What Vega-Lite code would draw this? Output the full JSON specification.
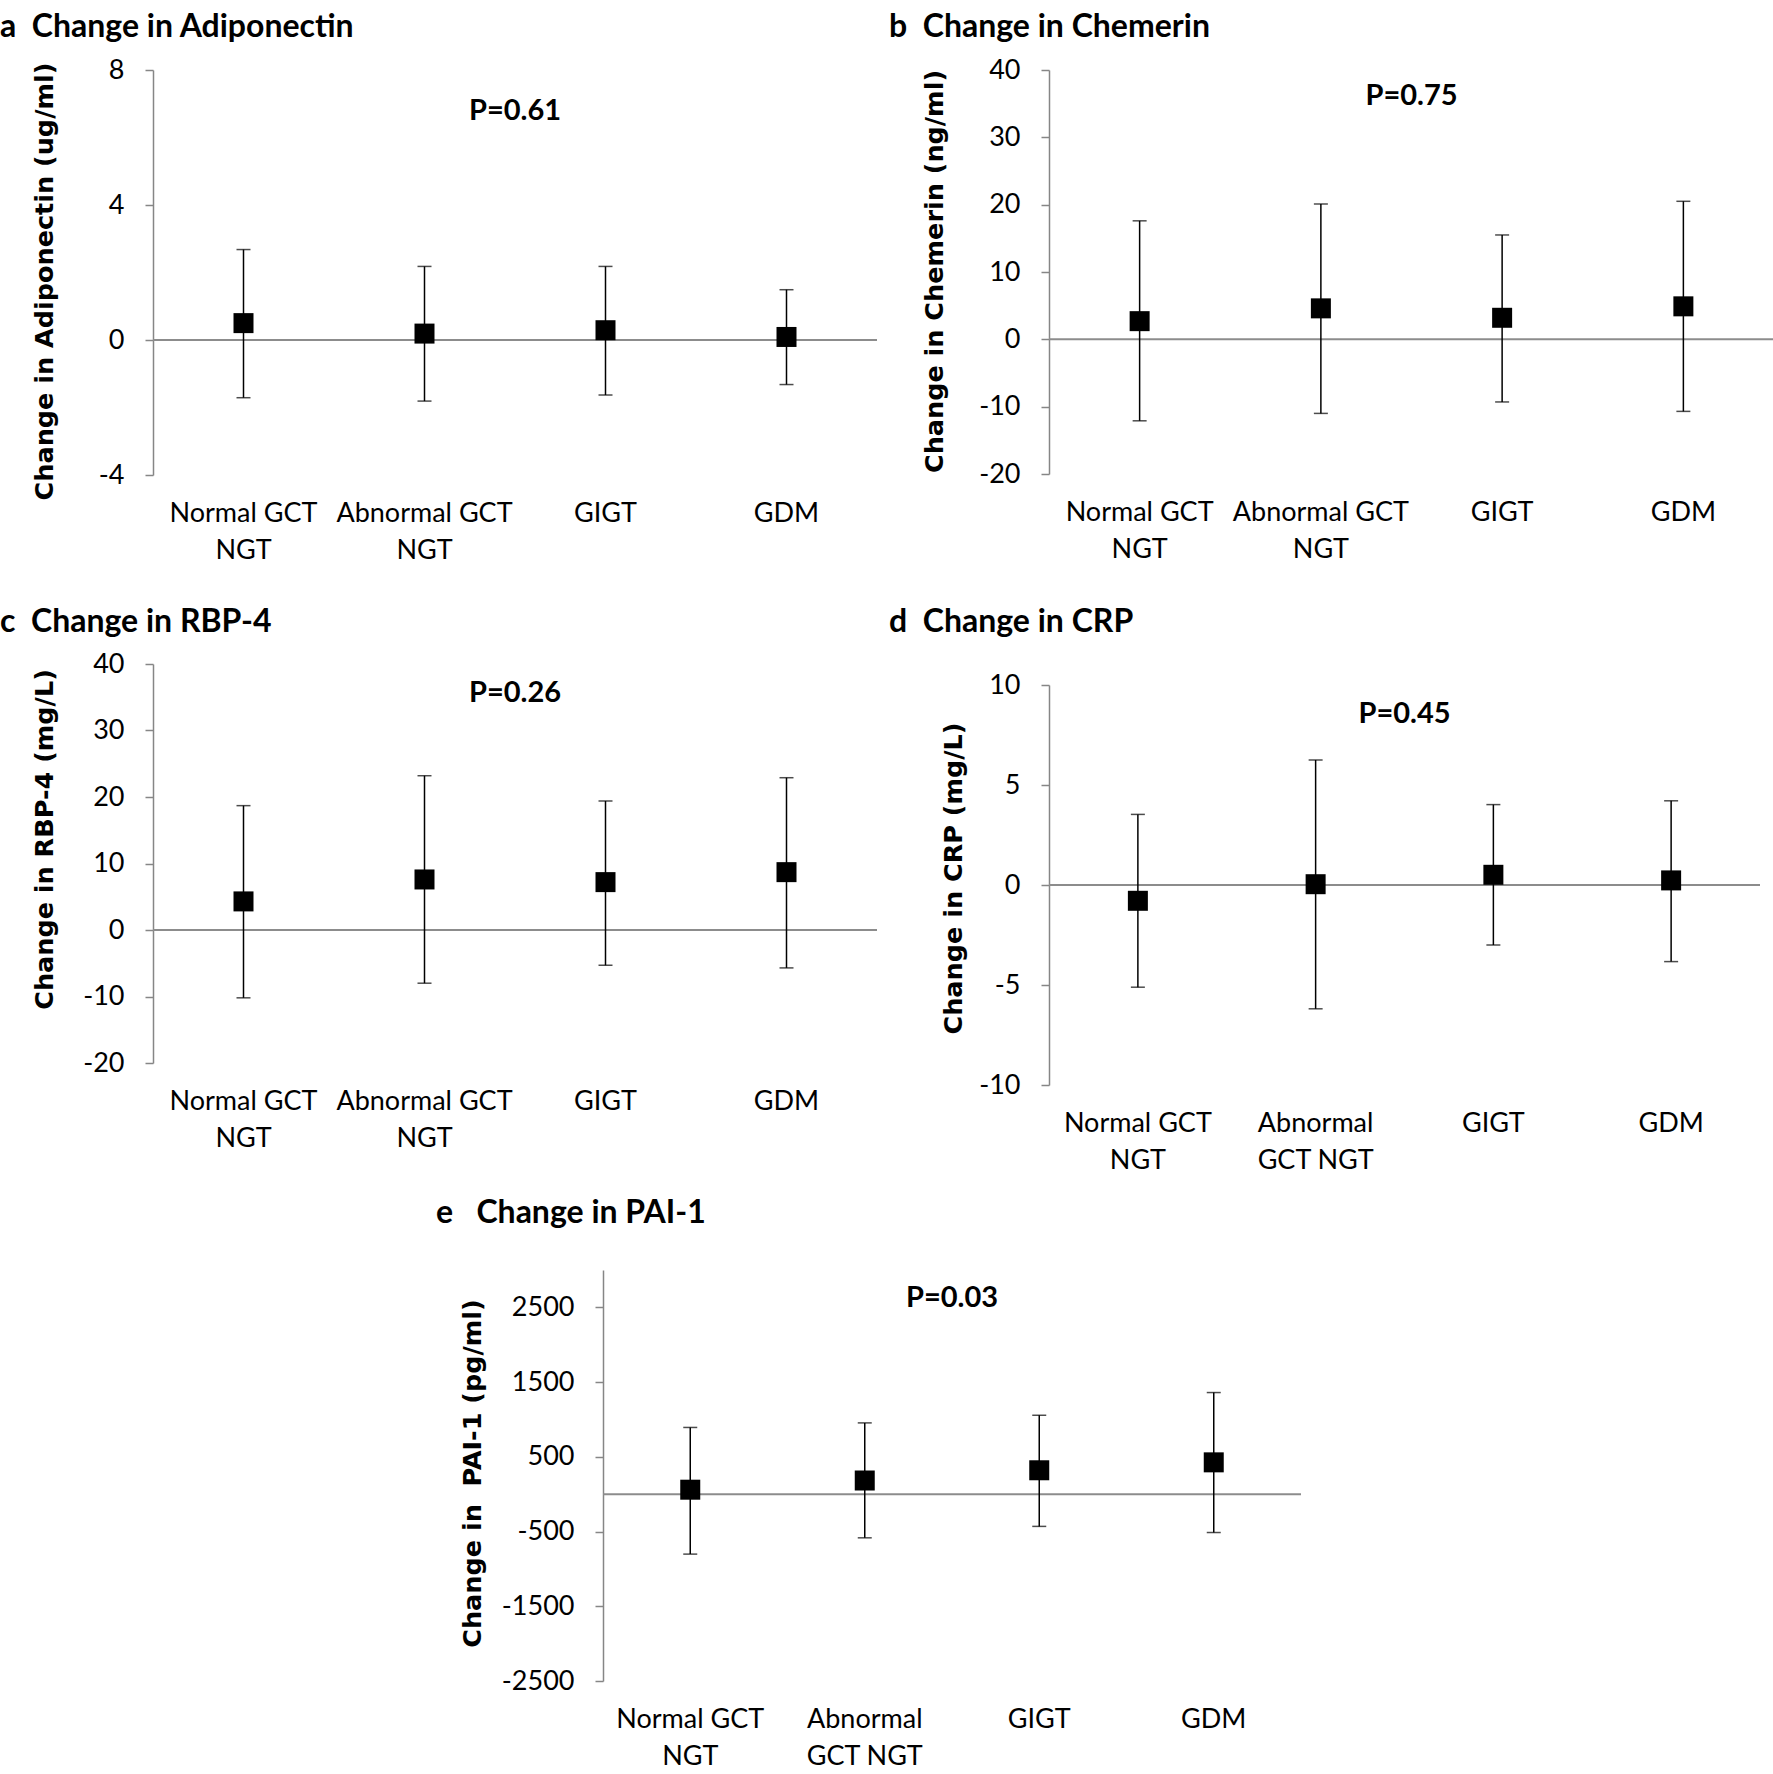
{
  "$schema": "https://vega.github.io/schema/vega-lite/v6.json",
  "padding": {"left": 0, "top": 11, "right": 0, "bottom": 0},
  "background": "white",
  "config": {
    "view": {"stroke": null},
    "font": "Lato",
    "title": {"font": "Lato", "fontWeight": "bold", "fontSize": 32, "color": "black", "anchor": "start", "frame": "group", "baseline": "alphabetic"},
    "axisY": {"domainColor": "#868686", "domainWidth": 1.5, "tickColor": "#868686", "tickWidth": 1.5, "tickSize": 8, "labelPadding": 21, "labelFont": "Lato", "labelFontSize": 27, "labelColor": "black", "grid": false, "titleFont": "DejaVu Sans", "titleFontWeight": "bold", "titleFontSize": 25.5, "titleColor": "black", "titleBaseline": "middle"},
    "axisX": {"domain": false, "ticks": false, "tickSize": 0, "labelPadding": 25, "labelFont": "Lato", "labelFontSize": 27, "labelColor": "black", "labelAngle": 0, "labelLimit": 400, "labelOverlap": false, "labelLineHeight": 37, "labelBaseline": "top", "grid": false}
  },
  "datasets": {
    "adiponectin": [
      {"cat": "Normal GCT|NGT", "mean": 0.5, "lo": -1.71, "hi": 2.68},
      {"cat": "Abnormal GCT|NGT", "mean": 0.19, "lo": -1.81, "hi": 2.18},
      {"cat": "GIGT", "mean": 0.29, "lo": -1.63, "hi": 2.18},
      {"cat": "GDM", "mean": 0.09, "lo": -1.32, "hi": 1.49}
    ],
    "chemerin": [
      {"cat": "Normal GCT|NGT", "mean": 2.7, "lo": -12.1, "hi": 17.6},
      {"cat": "Abnormal GCT|NGT", "mean": 4.6, "lo": -11.0, "hi": 20.1},
      {"cat": "GIGT", "mean": 3.2, "lo": -9.3, "hi": 15.5},
      {"cat": "GDM", "mean": 4.9, "lo": -10.7, "hi": 20.5}
    ],
    "rbp4": [
      {"cat": "Normal GCT|NGT", "mean": 4.3, "lo": -10.2, "hi": 18.7},
      {"cat": "Abnormal GCT|NGT", "mean": 7.6, "lo": -8.0, "hi": 23.2},
      {"cat": "GIGT", "mean": 7.2, "lo": -5.3, "hi": 19.4},
      {"cat": "GDM", "mean": 8.7, "lo": -5.7, "hi": 22.9}
    ],
    "crp": [
      {"cat": "Normal GCT|NGT", "mean": -0.79, "lo": -5.11, "hi": 3.53},
      {"cat": "Abnormal|GCT NGT", "mean": 0.04, "lo": -6.19, "hi": 6.25},
      {"cat": "GIGT", "mean": 0.51, "lo": -3.0, "hi": 4.02},
      {"cat": "GDM", "mean": 0.23, "lo": -3.83, "hi": 4.21}
    ],
    "pai1": [
      {"cat": "Normal GCT|NGT", "mean": 60, "lo": -802, "hi": 893},
      {"cat": "Abnormal|GCT NGT", "mean": 183, "lo": -584, "hi": 954},
      {"cat": "GIGT", "mean": 320, "lo": -431, "hi": 1056},
      {"cat": "GDM", "mean": 426, "lo": -513, "hi": 1360}
    ]
  },
  "vconcat": [
    {
      "hconcat": [
        {
          "vconcat": [
            {
              "width": 724, "height": 405,
              "title": {"text": "a\u00a0 Change in Adiponectin", "dx": -153, "offset": 12},
              "data": {"name": "adiponectin"},
              "layer": [
                {"data": {"values": [{"base": 0}]}, "mark": {"type": "rule", "color": "#8c8c8c", "strokeWidth": 2},
                 "encoding": {"y": {"field": "base", "type": "quantitative", "title": "Change in Adiponectin (ug/ml)", "scale": {"domain": [-4, 8], "nice": false, "zero": false}, "axis": {"values": [-4, 0, 4, 8], "labelExpr": "'' + datum.value", "titleX": -109, "titleY": 211}}}},
                {"mark": {"type": "rule", "color": "black", "strokeWidth": 1.5},
                 "encoding": {"x": {"field": "cat", "type": "nominal", "title": null, "scale": {"type": "band", "domain": ["Normal GCT|NGT", "Abnormal GCT|NGT", "GIGT", "GDM"], "paddingInner": 0, "paddingOuter": 0}, "axis": {"labelExpr": "split(datum.label, '|')"}},
                              "y": {"field": "lo", "type": "quantitative", "title": "Change in Adiponectin (ug/ml)", "scale": {"domain": [-4, 8], "nice": false, "zero": false}, "axis": {"values": [-4, 0, 4, 8], "labelExpr": "'' + datum.value", "titleX": -109, "titleY": 211}}, "y2": {"field": "hi"}}},
                {"mark": {"type": "tick", "orient": "horizontal", "color": "black", "size": 14, "thickness": 1.5},
                 "encoding": {"x": {"field": "cat", "type": "nominal", "title": null, "scale": {"type": "band"}, "axis": {"labelExpr": "split(datum.label, '|')"}},
                              "y": {"field": "lo", "type": "quantitative", "title": "Change in Adiponectin (ug/ml)", "scale": {"domain": [-4, 8], "nice": false, "zero": false}, "axis": {"values": [-4, 0, 4, 8], "labelExpr": "'' + datum.value", "titleX": -109, "titleY": 211}}}},
                {"mark": {"type": "tick", "orient": "horizontal", "color": "black", "size": 14, "thickness": 1.5},
                 "encoding": {"x": {"field": "cat", "type": "nominal", "title": null, "scale": {"type": "band"}, "axis": {"labelExpr": "split(datum.label, '|')"}},
                              "y": {"field": "hi", "type": "quantitative", "title": "Change in Adiponectin (ug/ml)", "scale": {"domain": [-4, 8], "nice": false, "zero": false}, "axis": {"values": [-4, 0, 4, 8], "labelExpr": "'' + datum.value", "titleX": -109, "titleY": 211}}}},
                {"mark": {"type": "square", "color": "black", "size": 400, "opacity": 1},
                 "encoding": {"x": {"field": "cat", "type": "nominal", "title": null, "scale": {"type": "band"}, "axis": {"labelExpr": "split(datum.label, '|')"}},
                              "y": {"field": "mean", "type": "quantitative", "title": "Change in Adiponectin (ug/ml)", "scale": {"domain": [-4, 8], "nice": false, "zero": false}, "axis": {"values": [-4, 0, 4, 8], "labelExpr": "'' + datum.value", "titleX": -109, "titleY": 211}}}},
                {"data": {"values": [{"cat": "Abnormal GCT|NGT", "label": "P=0.61", "py": 6.79}]},
                 "mark": {"type": "text", "font": "Lato", "fontWeight": "bold", "fontSize": 29, "baseline": "middle", "align": "center", "color": "black"},
                 "encoding": {"x": {"field": "cat", "type": "nominal", "title": null, "bandPosition": 1, "scale": {"type": "band"}, "axis": {"labelExpr": "split(datum.label, '|')"}},
                              "y": {"field": "py", "type": "quantitative", "title": "Change in Adiponectin (ug/ml)", "scale": {"domain": [-4, 8], "nice": false, "zero": false}, "axis": {"values": [-4, 0, 4, 8], "labelExpr": "'' + datum.value", "titleX": -109, "titleY": 211}}, "text": {"field": "label"}}}
              ]
            },
            {
              "width": 724, "height": 399,
              "title": {"text": "c\u00a0 Change in RBP-4", "dx": -153, "offset": 11},
              "data": {"name": "rbp4"},
              "layer": [
                {"data": {"values": [{"base": 0}]}, "mark": {"type": "rule", "color": "#8c8c8c", "strokeWidth": 2},
                 "encoding": {"y": {"field": "base", "type": "quantitative", "title": "Change in RBP-4 (mg/L)", "scale": {"domain": [-20, 40], "nice": false, "zero": false}, "axis": {"values": [-20, -10, 0, 10, 20, 30, 40], "labelExpr": "'' + datum.value", "titleX": -109, "titleY": 175}}}},
                {"mark": {"type": "rule", "color": "black", "strokeWidth": 1.5},
                 "encoding": {"x": {"field": "cat", "type": "nominal", "title": null, "scale": {"type": "band", "domain": ["Normal GCT|NGT", "Abnormal GCT|NGT", "GIGT", "GDM"], "paddingInner": 0, "paddingOuter": 0}, "axis": {"labelExpr": "split(datum.label, '|')"}},
                              "y": {"field": "lo", "type": "quantitative", "title": "Change in RBP-4 (mg/L)", "scale": {"domain": [-20, 40], "nice": false, "zero": false}, "axis": {"values": [-20, -10, 0, 10, 20, 30, 40], "labelExpr": "'' + datum.value", "titleX": -109, "titleY": 175}}, "y2": {"field": "hi"}}},
                {"mark": {"type": "tick", "orient": "horizontal", "color": "black", "size": 14, "thickness": 1.5},
                 "encoding": {"x": {"field": "cat", "type": "nominal", "title": null, "scale": {"type": "band"}, "axis": {"labelExpr": "split(datum.label, '|')"}},
                              "y": {"field": "lo", "type": "quantitative", "title": "Change in RBP-4 (mg/L)", "scale": {"domain": [-20, 40], "nice": false, "zero": false}, "axis": {"values": [-20, -10, 0, 10, 20, 30, 40], "labelExpr": "'' + datum.value", "titleX": -109, "titleY": 175}}}},
                {"mark": {"type": "tick", "orient": "horizontal", "color": "black", "size": 14, "thickness": 1.5},
                 "encoding": {"x": {"field": "cat", "type": "nominal", "title": null, "scale": {"type": "band"}, "axis": {"labelExpr": "split(datum.label, '|')"}},
                              "y": {"field": "hi", "type": "quantitative", "title": "Change in RBP-4 (mg/L)", "scale": {"domain": [-20, 40], "nice": false, "zero": false}, "axis": {"values": [-20, -10, 0, 10, 20, 30, 40], "labelExpr": "'' + datum.value", "titleX": -109, "titleY": 175}}}},
                {"mark": {"type": "square", "color": "black", "size": 400, "opacity": 1},
                 "encoding": {"x": {"field": "cat", "type": "nominal", "title": null, "scale": {"type": "band"}, "axis": {"labelExpr": "split(datum.label, '|')"}},
                              "y": {"field": "mean", "type": "quantitative", "title": "Change in RBP-4 (mg/L)", "scale": {"domain": [-20, 40], "nice": false, "zero": false}, "axis": {"values": [-20, -10, 0, 10, 20, 30, 40], "labelExpr": "'' + datum.value", "titleX": -109, "titleY": 175}}}},
                {"data": {"values": [{"cat": "Abnormal GCT|NGT", "label": "P=0.26", "py": 35.6}]},
                 "mark": {"type": "text", "font": "Lato", "fontWeight": "bold", "fontSize": 29, "baseline": "middle", "align": "center", "color": "black"},
                 "encoding": {"x": {"field": "cat", "type": "nominal", "title": null, "bandPosition": 1, "scale": {"type": "band"}, "axis": {"labelExpr": "split(datum.label, '|')"}},
                              "y": {"field": "py", "type": "quantitative", "title": "Change in RBP-4 (mg/L)", "scale": {"domain": [-20, 40], "nice": false, "zero": false}, "axis": {"values": [-20, -10, 0, 10, 20, 30, 40], "labelExpr": "'' + datum.value", "titleX": -109, "titleY": 175}}, "text": {"field": "label"}}}
              ]
            }
          ],
          "spacing": 43
        },
        {
          "vconcat": [
            {
              "width": 725, "height": 404,
              "title": {"text": "b\u00a0 Change in Chemerin", "dx": -160, "offset": 12},
              "data": {"name": "chemerin"},
              "layer": [
                {"data": {"values": [{"base": 0}]}, "mark": {"type": "rule", "color": "#8c8c8c", "strokeWidth": 2},
                 "encoding": {"y": {"field": "base", "type": "quantitative", "title": "Change in Chemerin (ng/ml)", "scale": {"domain": [-20, 40], "nice": false, "zero": false}, "axis": {"values": [-20, -10, 0, 10, 20, 30, 40], "labelExpr": "'' + datum.value", "titleX": -115, "titleY": 201}}}},
                {"mark": {"type": "rule", "color": "black", "strokeWidth": 1.5},
                 "encoding": {"x": {"field": "cat", "type": "nominal", "title": null, "scale": {"type": "band", "domain": ["Normal GCT|NGT", "Abnormal GCT|NGT", "GIGT", "GDM"], "paddingInner": 0, "paddingOuter": 0}, "axis": {"labelExpr": "split(datum.label, '|')"}},
                              "y": {"field": "lo", "type": "quantitative", "title": "Change in Chemerin (ng/ml)", "scale": {"domain": [-20, 40], "nice": false, "zero": false}, "axis": {"values": [-20, -10, 0, 10, 20, 30, 40], "labelExpr": "'' + datum.value", "titleX": -115, "titleY": 201}}, "y2": {"field": "hi"}}},
                {"mark": {"type": "tick", "orient": "horizontal", "color": "black", "size": 14, "thickness": 1.5},
                 "encoding": {"x": {"field": "cat", "type": "nominal", "title": null, "scale": {"type": "band"}, "axis": {"labelExpr": "split(datum.label, '|')"}},
                              "y": {"field": "lo", "type": "quantitative", "title": "Change in Chemerin (ng/ml)", "scale": {"domain": [-20, 40], "nice": false, "zero": false}, "axis": {"values": [-20, -10, 0, 10, 20, 30, 40], "labelExpr": "'' + datum.value", "titleX": -115, "titleY": 201}}}},
                {"mark": {"type": "tick", "orient": "horizontal", "color": "black", "size": 14, "thickness": 1.5},
                 "encoding": {"x": {"field": "cat", "type": "nominal", "title": null, "scale": {"type": "band"}, "axis": {"labelExpr": "split(datum.label, '|')"}},
                              "y": {"field": "hi", "type": "quantitative", "title": "Change in Chemerin (ng/ml)", "scale": {"domain": [-20, 40], "nice": false, "zero": false}, "axis": {"values": [-20, -10, 0, 10, 20, 30, 40], "labelExpr": "'' + datum.value", "titleX": -115, "titleY": 201}}}},
                {"mark": {"type": "square", "color": "black", "size": 400, "opacity": 1},
                 "encoding": {"x": {"field": "cat", "type": "nominal", "title": null, "scale": {"type": "band"}, "axis": {"labelExpr": "split(datum.label, '|')"}},
                              "y": {"field": "mean", "type": "quantitative", "title": "Change in Chemerin (ng/ml)", "scale": {"domain": [-20, 40], "nice": false, "zero": false}, "axis": {"values": [-20, -10, 0, 10, 20, 30, 40], "labelExpr": "'' + datum.value", "titleX": -115, "titleY": 201}}}},
                {"data": {"values": [{"cat": "Abnormal GCT|NGT", "label": "P=0.75", "py": 36.1}]},
                 "mark": {"type": "text", "font": "Lato", "fontWeight": "bold", "fontSize": 29, "baseline": "middle", "align": "center", "color": "black"},
                 "encoding": {"x": {"field": "cat", "type": "nominal", "title": null, "bandPosition": 1, "scale": {"type": "band"}, "axis": {"labelExpr": "split(datum.label, '|')"}},
                              "y": {"field": "py", "type": "quantitative", "title": "Change in Chemerin (ng/ml)", "scale": {"domain": [-20, 40], "nice": false, "zero": false}, "axis": {"values": [-20, -10, 0, 10, 20, 30, 40], "labelExpr": "'' + datum.value", "titleX": -115, "titleY": 201}}, "text": {"field": "label"}}}
              ]
            },
            {
              "width": 711, "height": 400,
              "title": {"text": "d\u00a0 Change in CRP", "dx": -160, "offset": 32},
              "data": {"name": "crp"},
              "layer": [
                {"data": {"values": [{"base": 0}]}, "mark": {"type": "rule", "color": "#8c8c8c", "strokeWidth": 2},
                 "encoding": {"y": {"field": "base", "type": "quantitative", "title": "Change in CRP (mg/L)", "scale": {"domain": [-10, 10], "nice": false, "zero": false}, "axis": {"values": [-10, -5, 0, 5, 10], "labelExpr": "'' + datum.value", "titleX": -96, "titleY": 193}}}},
                {"mark": {"type": "rule", "color": "black", "strokeWidth": 1.5},
                 "encoding": {"x": {"field": "cat", "type": "nominal", "title": null, "scale": {"type": "band", "domain": ["Normal GCT|NGT", "Abnormal|GCT NGT", "GIGT", "GDM"], "paddingInner": 0, "paddingOuter": 0}, "axis": {"labelExpr": "split(datum.label, '|')"}},
                              "y": {"field": "lo", "type": "quantitative", "title": "Change in CRP (mg/L)", "scale": {"domain": [-10, 10], "nice": false, "zero": false}, "axis": {"values": [-10, -5, 0, 5, 10], "labelExpr": "'' + datum.value", "titleX": -96, "titleY": 193}}, "y2": {"field": "hi"}}},
                {"mark": {"type": "tick", "orient": "horizontal", "color": "black", "size": 14, "thickness": 1.5},
                 "encoding": {"x": {"field": "cat", "type": "nominal", "title": null, "scale": {"type": "band"}, "axis": {"labelExpr": "split(datum.label, '|')"}},
                              "y": {"field": "lo", "type": "quantitative", "title": "Change in CRP (mg/L)", "scale": {"domain": [-10, 10], "nice": false, "zero": false}, "axis": {"values": [-10, -5, 0, 5, 10], "labelExpr": "'' + datum.value", "titleX": -96, "titleY": 193}}}},
                {"mark": {"type": "tick", "orient": "horizontal", "color": "black", "size": 14, "thickness": 1.5},
                 "encoding": {"x": {"field": "cat", "type": "nominal", "title": null, "scale": {"type": "band"}, "axis": {"labelExpr": "split(datum.label, '|')"}},
                              "y": {"field": "hi", "type": "quantitative", "title": "Change in CRP (mg/L)", "scale": {"domain": [-10, 10], "nice": false, "zero": false}, "axis": {"values": [-10, -5, 0, 5, 10], "labelExpr": "'' + datum.value", "titleX": -96, "titleY": 193}}}},
                {"mark": {"type": "square", "color": "black", "size": 400, "opacity": 1},
                 "encoding": {"x": {"field": "cat", "type": "nominal", "title": null, "scale": {"type": "band"}, "axis": {"labelExpr": "split(datum.label, '|')"}},
                              "y": {"field": "mean", "type": "quantitative", "title": "Change in CRP (mg/L)", "scale": {"domain": [-10, 10], "nice": false, "zero": false}, "axis": {"values": [-10, -5, 0, 5, 10], "labelExpr": "'' + datum.value", "titleX": -96, "titleY": 193}}}},
                {"data": {"values": [{"cat": "Abnormal|GCT NGT", "label": "P=0.45", "py": 8.55}]},
                 "mark": {"type": "text", "font": "Lato", "fontWeight": "bold", "fontSize": 29, "baseline": "middle", "align": "center", "color": "black"},
                 "encoding": {"x": {"field": "cat", "type": "nominal", "title": null, "bandPosition": 1, "scale": {"type": "band"}, "axis": {"labelExpr": "split(datum.label, '|')"}},
                              "y": {"field": "py", "type": "quantitative", "title": "Change in CRP (mg/L)", "scale": {"domain": [-10, 10], "nice": false, "zero": false}, "axis": {"values": [-10, -5, 0, 5, 10], "labelExpr": "'' + datum.value", "titleX": -96, "titleY": 193}}, "text": {"field": "label"}}}
              ]
            }
          ],
          "spacing": 44
        }
      ],
      "spacing": 11
    },
    {
      "hconcat": [
        {"width": 250, "height": 10, "data": {"values": []}, "mark": "point"},
        {
          "width": 698, "height": 411,
          "title": {"text": "e\u00a0\u00a0 Change in PAI-1", "dx": -167, "offset": 40},
          "data": {"name": "pai1"},
          "layer": [
            {"data": {"values": [{"base": 0}]}, "mark": {"type": "rule", "color": "#8c8c8c", "strokeWidth": 2},
             "encoding": {"y": {"field": "base", "type": "quantitative", "title": "Change in\u00a0 PAI-1 (pg/ml)", "scale": {"domain": [-2500, 3000], "nice": false, "zero": false}, "axis": {"values": [-2500, -1500, -500, 500, 1500, 2500], "labelExpr": "'' + datum.value", "titleX": -131, "titleY": 203}}}},
            {"mark": {"type": "rule", "color": "black", "strokeWidth": 1.5},
             "encoding": {"x": {"field": "cat", "type": "nominal", "title": null, "scale": {"type": "band", "domain": ["Normal GCT|NGT", "Abnormal|GCT NGT", "GIGT", "GDM"], "paddingInner": 0, "paddingOuter": 0}, "axis": {"labelExpr": "split(datum.label, '|')"}},
                          "y": {"field": "lo", "type": "quantitative", "title": "Change in\u00a0 PAI-1 (pg/ml)", "scale": {"domain": [-2500, 3000], "nice": false, "zero": false}, "axis": {"values": [-2500, -1500, -500, 500, 1500, 2500], "labelExpr": "'' + datum.value", "titleX": -131, "titleY": 203}}, "y2": {"field": "hi"}}},
            {"mark": {"type": "tick", "orient": "horizontal", "color": "black", "size": 14, "thickness": 1.5},
             "encoding": {"x": {"field": "cat", "type": "nominal", "title": null, "scale": {"type": "band"}, "axis": {"labelExpr": "split(datum.label, '|')"}},
                          "y": {"field": "lo", "type": "quantitative", "title": "Change in\u00a0 PAI-1 (pg/ml)", "scale": {"domain": [-2500, 3000], "nice": false, "zero": false}, "axis": {"values": [-2500, -1500, -500, 500, 1500, 2500], "labelExpr": "'' + datum.value", "titleX": -131, "titleY": 203}}}},
            {"mark": {"type": "tick", "orient": "horizontal", "color": "black", "size": 14, "thickness": 1.5},
             "encoding": {"x": {"field": "cat", "type": "nominal", "title": null, "scale": {"type": "band"}, "axis": {"labelExpr": "split(datum.label, '|')"}},
                          "y": {"field": "hi", "type": "quantitative", "title": "Change in\u00a0 PAI-1 (pg/ml)", "scale": {"domain": [-2500, 3000], "nice": false, "zero": false}, "axis": {"values": [-2500, -1500, -500, 500, 1500, 2500], "labelExpr": "'' + datum.value", "titleX": -131, "titleY": 203}}}},
            {"mark": {"type": "square", "color": "black", "size": 400, "opacity": 1},
             "encoding": {"x": {"field": "cat", "type": "nominal", "title": null, "scale": {"type": "band"}, "axis": {"labelExpr": "split(datum.label, '|')"}},
                          "y": {"field": "mean", "type": "quantitative", "title": "Change in\u00a0 PAI-1 (pg/ml)", "scale": {"domain": [-2500, 3000], "nice": false, "zero": false}, "axis": {"values": [-2500, -1500, -500, 500, 1500, 2500], "labelExpr": "'' + datum.value", "titleX": -131, "titleY": 203}}}},
            {"data": {"values": [{"cat": "Abnormal|GCT NGT", "label": "P=0.03", "py": 2625}]},
             "mark": {"type": "text", "font": "Lato", "fontWeight": "bold", "fontSize": 29, "baseline": "middle", "align": "center", "color": "black"},
             "encoding": {"x": {"field": "cat", "type": "nominal", "title": null, "bandPosition": 1, "scale": {"type": "band"}, "axis": {"labelExpr": "split(datum.label, '|')"}},
                          "y": {"field": "py", "type": "quantitative", "title": "Change in\u00a0 PAI-1 (pg/ml)", "scale": {"domain": [-2500, 3000], "nice": false, "zero": false}, "axis": {"values": [-2500, -1500, -500, 500, 1500, 2500], "labelExpr": "'' + datum.value", "titleX": -131, "titleY": 203}}, "text": {"field": "label"}}}
          ]
        }
      ],
      "spacing": 33
    }
  ],
  "spacing": 24
}
